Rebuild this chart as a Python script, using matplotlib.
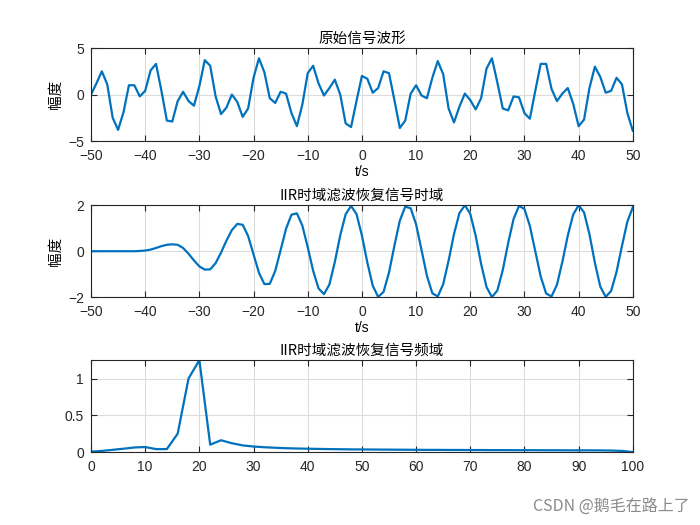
import numpy as np
import matplotlib
matplotlib.use('Agg')
import matplotlib.pyplot as plt

plt.rcParams['font.family'] = ['Liberation Sans', 'Noto Sans CJK SC', 'DejaVu Sans']
plt.rcParams['font.size'] = 10

# 时间轴
t = np.arange(-50, 51)

# 原始信号
x_raw = [0.0, 1.2, 2.5, 1.1, -2.5, -3.8, -1.9, 1.0, 1.0, -0.2,
         0.4, 2.6, 3.3, 0.4, -2.8, -2.9, -0.7, 0.3, -0.7, -1.2,
         0.9, 3.7, 3.1, -0.2, -2.1, -1.4, 0.0, -0.8, -2.4, -1.5,
         1.8, 3.9, 2.4, -0.4, -0.9, 0.3, 0.1, -2.0, -3.4, -1.1,
         2.3, 3.1, 1.2, -0.1, 0.7, 1.6, 0.0, -3.1, -3.5, -0.7,
         2.0, 1.7, 0.2, 0.7, 2.5, 2.3, -0.6, -3.6, -2.8, 0.1,
         1.0, -0.1, -0.4, 1.8, 3.6, 2.2, -1.5, -3.0, -1.3, 0.1,
         -0.6, -1.6, -0.4, 2.8, 3.9, 1.3, -1.5, -1.7, -0.2, -0.3,
         -2.0, -2.6, 0.4, 3.3, 3.3, 0.6, -0.7, 0.1, 0.7, -1.0,
         -3.4, -2.7, 0.7, 3.0, 1.9, 0.2, 0.4, 1.8, 1.1, -2.0,
         -3.9]

# IIR滤波后时域信号
y_filt = [0.0, 0.0, 0.0, 0.0, 0.0, 0.0, 0.0, 0.0, 0.0, 0.01,
          0.03, 0.07, 0.14, 0.22, 0.28, 0.30, 0.28, 0.14, -0.11, -0.40,
          -0.66, -0.80, -0.79, -0.52, -0.06, 0.46, 0.92, 1.19, 1.15, 0.66,
          -0.14, -0.94, -1.43, -1.42, -0.86, 0.05, 0.98, 1.59, 1.65, 1.12,
          0.18, -0.85, -1.62, -1.87, -1.45, -0.47, 0.69, 1.61, 1.97, 1.62,
          0.69, -0.49, -1.50, -1.99, -1.77, -0.93, 0.24, 1.33, 1.94, 1.87,
          1.17, 0.06, -1.07, -1.83, -1.97, -1.44, -0.41, 0.75, 1.66, 2.00,
          1.63, 0.67, -0.55, -1.56, -2.00, -1.71, -0.82, 0.36, 1.41, 1.97,
          1.84, 1.10, 0.00, -1.10, -1.84, -1.97, -1.46, -0.46, 0.68, 1.60,
          2.00, 1.69, 0.74, -0.50, -1.54, -1.99, -1.73, -0.90, 0.23, 1.29,
          1.91]

# 频域
f = np.arange(0, 101, 2)
Y_mag = [0.005, 0.015, 0.03, 0.045, 0.062, 0.068, 0.04, 0.04, 0.25, 1.0,
         1.25, 0.10, 0.16, 0.12, 0.09, 0.075, 0.065, 0.058, 0.052, 0.048,
         0.045, 0.042, 0.040, 0.038, 0.036, 0.035, 0.034, 0.033, 0.032, 0.031,
         0.030, 0.029, 0.029, 0.028, 0.028, 0.027, 0.027, 0.026, 0.026, 0.025,
         0.025, 0.025, 0.024, 0.024, 0.023, 0.023, 0.023, 0.022, 0.020, 0.015,
         0.0]

c = '#0072BD'
cjk = ['Noto Sans CJK SC', 'DejaVu Sans']

fig = plt.figure(figsize=(7, 5.25), dpi=100)
ax1 = fig.add_axes([0.13, 0.7314, 0.774, 0.177])
ax2 = fig.add_axes([0.13, 0.434, 0.774, 0.175])
ax3 = fig.add_axes([0.13, 0.139, 0.774, 0.175])

def style(ax):
    ax.grid(True, color='#dcdcdc', linewidth=0.8)
    ax.set_axisbelow(True)
    ax.tick_params(direction='in', top=True, right=True, length=4,
                   colors='#262626', labelsize=10)
    ax.tick_params(axis='x', pad=6)
    ax.tick_params(axis='y', pad=5)
    for s in ax.spines.values():
        s.set_color('#262626')
        s.set_linewidth(0.8)

ax1.plot(t, x_raw, color=c, linewidth=1.6)
ax1.set_xlim(-50, 50)
ax1.set_ylim(-5, 5)
ax1.set_xticks(np.arange(-50, 51, 10))
ax1.set_yticks([-5, 0, 5])
ax1.set_title('原始信号波形', family=cjk, fontsize=10.5, pad=4)
ax1.set_xlabel('t/s', labelpad=1)
ax1.set_ylabel('幅度', family=cjk, fontsize=10.5, labelpad=4)
style(ax1)

ax2.plot(t, y_filt, color=c, linewidth=1.6)
ax2.set_xlim(-50, 50)
ax2.set_ylim(-2, 2)
ax2.set_xticks(np.arange(-50, 51, 10))
ax2.set_yticks([-2, 0, 2])
ax2.set_title('IIR时域滤波恢复信号时域', family=cjk, fontsize=10.5, pad=4)
ax2.set_xlabel('t/s', labelpad=1)
ax2.set_ylabel('幅度', family=cjk, fontsize=10.5, labelpad=4)
style(ax2)

ax3.plot(f, Y_mag, color=c, linewidth=1.6)
ax3.set_xlim(0, 100)
ax3.set_ylim(0, 1.25)
ax3.set_xticks(np.arange(0, 101, 10))
ax3.set_yticks([0, 0.5, 1])
ax3.set_yticklabels(['0', '0.5', '1'])
ax3.set_title('IIR时域滤波恢复信号频域', family=cjk, fontsize=10.5, pad=4)
style(ax3)

fig.text(0.985, 0.035, 'CSDN @鹅毛在路上了', family=cjk, fontsize=11.5,
         color='#8a8a8a', ha='right', va='center')

fig.savefig('out.png', dpi=100)
